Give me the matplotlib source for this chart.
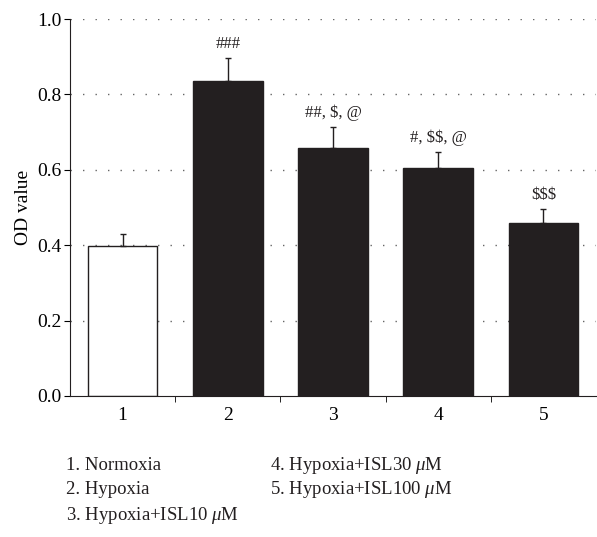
import matplotlib.pyplot as plt
import numpy as np

groups = ["1", "2", "3", "4", "5"]
od_values = [0.398, 0.836, 0.658, 0.605, 0.459]
od_errors = [0.032, 0.061, 0.056, 0.043, 0.038]
sig_labels = ["", "###", "##, \\$, @", "#, \\$\\$, @", "\\$\\$\\$"]
legend_lines = [
    "1. Normoxia",
    "2. Hypoxia",
    "3. Hypoxia+ISL10 $\\mu$M",
    "4. Hypoxia+ISL30 $\\mu$M",
    "5. Hypoxia+ISL100 $\\mu$M",
]

plt.rcParams['font.family'] = ['Liberation Serif', 'DejaVu Serif']
plt.rcParams['mathtext.fontset'] = 'custom'
plt.rcParams['mathtext.it'] = 'Liberation Serif:italic'
plt.rcParams['mathtext.rm'] = 'Liberation Serif'

fig = plt.figure(figsize=(5.97, 5.37), dpi=100)
ax = fig.add_axes([70 / 597, 1 - 396 / 537, 526 / 597, 377 / 537])

x = np.arange(1, len(groups) + 1)
colors = ["white"] + ["#231f20"] * 4

# grid first so bars cover it
for yv in [0.2, 0.4, 0.6, 0.8, 1.0]:
    ax.axhline(yv, color="#666666", linestyle=(0, (1, 8)), linewidth=1.0, zorder=0)

ax.bar(x, od_values, width=0.66, color=colors, edgecolor="#231f20", linewidth=1.0, zorder=2)
ax.errorbar(x, od_values, yerr=[np.zeros(len(od_errors)), od_errors], fmt="none",
            ecolor="#231f20", elinewidth=1.0, capsize=2.5, capthick=1.0, zorder=3)

for xi, v, e, lab in zip(x, od_values, od_errors, sig_labels):
    if lab:
        ax.text(xi, v + e + 0.015, lab, ha="center", va="bottom", fontsize=12, color="#231f20")

ax.set_xlim(0.5, 5.5)
ax.set_ylim(0, 1.0)
ax.set_yticks([0.0, 0.2, 0.4, 0.6, 0.8, 1.0])
ax.set_yticklabels(["0.0", "0.2", "0.4", "0.6", "0.8", "1.0"], fontsize=14)
ax.set_ylabel("OD value", fontsize=14)

ax.set_xticks(x)
ax.set_xticklabels(groups, fontsize=14)
ax.tick_params(axis="x", which="major", length=0, pad=8)
ax.set_xticks([1.5, 2.5, 3.5, 4.5], minor=True)
ax.tick_params(axis="x", which="minor", length=4, direction="out")
ax.tick_params(axis="y", length=4, direction="out", pad=2)

for s in ["top", "right"]:
    ax.spines[s].set_visible(False)
for s in ["left", "bottom"]:
    ax.spines[s].set_color("#231f20")

# group legend under the plot
col_x = [66 / 597, 270 / 597]
row_y = [1 - 465 / 537, 1 - 490 / 537, 1 - 515 / 537]
for i, line in enumerate(legend_lines):
    col = 0 if i < 3 else 1
    row = i if i < 3 else i - 3
    fig.text(col_x[col], row_y[row], line, fontsize=13.5, va="center", ha="left", color="#231f20")

fig.savefig("out.png", dpi=100)
